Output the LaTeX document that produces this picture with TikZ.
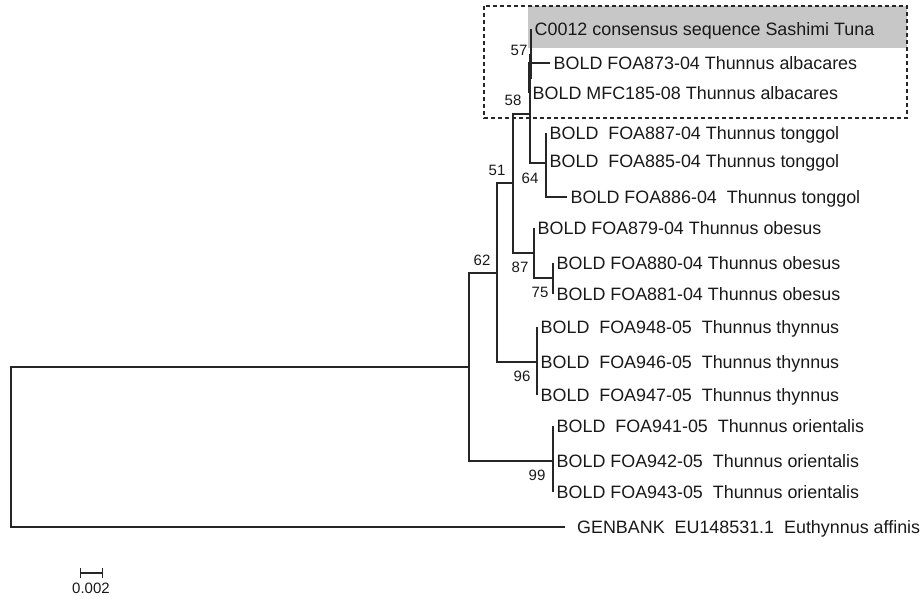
\documentclass[tikz,border=0pt]{standalone}
\usepackage{fontspec}
\setmainfont{Liberation Sans}
\usetikzlibrary{arrows.meta}

\begin{document}
\begin{tikzpicture}[
  x=1pt, y=-1pt,
  branch/.style={draw=black!85, line width=1.4pt},
  leaf/.style={anchor=west, inner xsep=3.5pt, inner ysep=0pt, text height=12.8pt, text depth=0pt, font=\fontsize{17.9}{20}\selectfont, text=black!90},
  boot/.style={inner sep=0pt, font=\fontsize{15}{17}\selectfont, text=black!90},
  hilite/.style={fill=black!22},
  cladebox/.style={draw=black!85, line width=1.2pt, dash pattern=on 4pt off 3pt},
  scalebar/.style={draw=black!85, line width=1.2pt, {Bar[width=10pt]}-{Bar[width=10pt]}},
]
\useasboundingbox (0,0) rectangle (924,599);

% Highlighted query and albacares box
\fill[hilite] (528,6) rectangle (907,48);
\draw[cladebox] (484,6) rectangle (907,118);

% Leaves
\node[leaf] (c0012) at (531,29) {C0012 consensus sequence Sashimi Tuna};
\node[leaf] (foa873) at (550,63) {BOLD FOA873-04 Thunnus albacares};
\node[leaf] (mfc185) at (529,93) {BOLD MFC185-08 Thunnus albacares};
\node[leaf] (foa887) at (546,133) {BOLD\ \ FOA887-04 Thunnus tonggol};
\node[leaf] (foa885) at (546,161) {BOLD\ \ FOA885-04 Thunnus tonggol};
\node[leaf] (foa886) at (567,197) {BOLD FOA886-04\ \ Thunnus tonggol};
\node[leaf] (foa879) at (534,228) {BOLD FOA879-04 Thunnus obesus};
\node[leaf] (foa880) at (553,263) {BOLD FOA880-04 Thunnus obesus};
\node[leaf] (foa881) at (553,294) {BOLD FOA881-04 Thunnus obesus};
\node[leaf] (foa948) at (537,327) {BOLD\ \ FOA948-05\ \ Thunnus thynnus};
\node[leaf] (foa946) at (537,362) {BOLD\ \ FOA946-05\ \ Thunnus thynnus};
\node[leaf] (foa947) at (537,395) {BOLD\ \ FOA947-05\ \ Thunnus thynnus};
\node[leaf] (foa941) at (553,426) {BOLD\ \ FOA941-05\ \ Thunnus orientalis};
\node[leaf] (foa942) at (553,461) {BOLD FOA942-05\ \ Thunnus orientalis};
\node[leaf] (foa943) at (553,492) {BOLD FOA943-05\ \ Thunnus orientalis};
\node[leaf, inner xsep=12pt] (genbank) at (565,527) {GENBANK\ \ EU148531.1\ \ Euthynnus affinis};

% Internal nodes
\coordinate (root) at (11,447);
\coordinate (nbase) at (469,367);
\coordinate (n62) at (497,273);
\coordinate (n51) at (513,183);
\coordinate (n58) at (530,114);
\coordinate (n57) at (531,55);
\coordinate (nalb) at (529,78);
\coordinate (n64) at (546,163);
\coordinate (n87) at (534,253);
\coordinate (n75) at (553,278);
\coordinate (n96) at (537,362);
\coordinate (n99) at (553,461);

% Branches
\draw[branch] (root) |- (nbase);
\draw[branch] (root) |- (genbank.west);
\draw[branch] (nbase) |- (n62);
\draw[branch] (nbase) |- (n99);
\draw[branch] (n62) |- (n51);
\draw[branch] (n62) |- (n96);
\draw[branch] (n51) |- (n58);
\draw[branch] (n51) |- (n87);
\draw[branch] (n58) |- (n57);
\draw[branch] (n58) |- (n64);
\draw[branch] (n57) |- (c0012.west);
\draw[branch] (n57) |- (nalb);
\draw[branch] (nalb) |- (foa873.west);
\draw[branch] (nalb) |- (mfc185.west);
\draw[branch] (n64) |- (foa887.west);
\draw[branch] (n64) |- (foa885.west);
\draw[branch] (n64) |- (foa886.west);
\draw[branch] (n87) |- (foa879.west);
\draw[branch] (n87) |- (n75);
\draw[branch] (n75) |- (foa880.west);
\draw[branch] (n75) |- (foa881.west);
\draw[branch] (n96) |- (foa948.west);
\draw[branch] (n96) |- (foa946.west);
\draw[branch] (n96) |- (foa947.west);
\draw[branch] (n99) |- (foa941.west);
\draw[branch] (n99) |- (foa942.west);
\draw[branch] (n99) |- (foa943.west);

% Bootstrap values
\node[boot] (b57) at (519,50) {57};
\node[boot] (b58) at (513,100) {58};
\node[boot] (b51) at (497,170) {51};
\node[boot] (b64) at (530,178) {64};
\node[boot] (b62) at (482,260) {62};
\node[boot] (b87) at (520,267) {87};
\node[boot] (b75) at (540,292) {75};
\node[boot] (b96) at (522,376) {96};
\node[boot] (b99) at (537,475) {99};

% Scale bar
\coordinate (sbl) at (80,573);
\coordinate (sbr) at (103,573);
\draw[scalebar] (sbl) -- (sbr);
\node[boot] (sblabel) at (91,588) {0.002};

\end{tikzpicture}
\end{document}
